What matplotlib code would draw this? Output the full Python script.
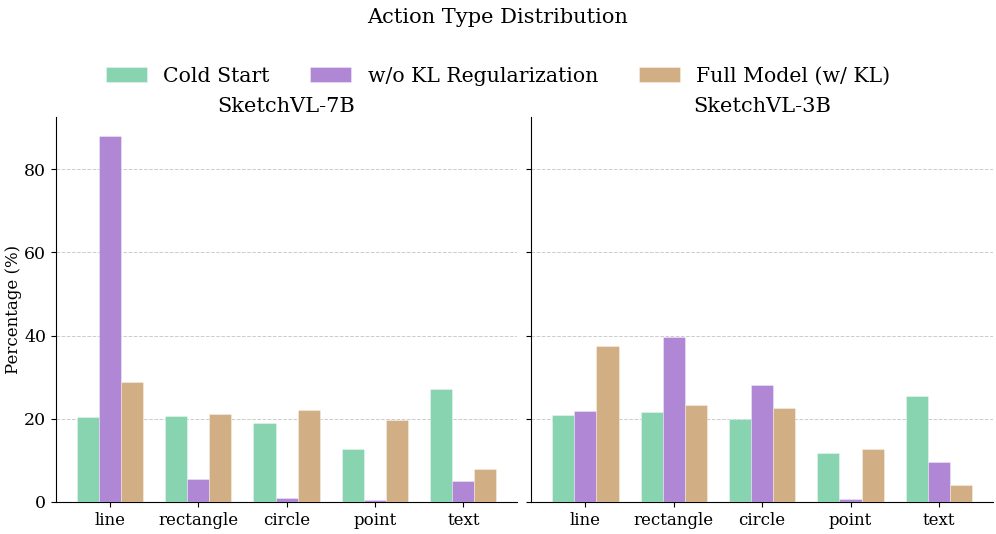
import numpy as np
import matplotlib.pyplot as plt

plt.rcParams['font.family'] = ['DejaVu Serif']

# dados
acoes = ["line", "rectangle", "circle", "point", "text"]
series = ["Cold Start", "w/o KL Regularization", "Full Model (w/ KL)"]
cores = ["#88d4b0", "#af87d4", "#d2ae85"]

vl7b_cold = [20.5, 20.7, 18.9, 12.7, 27.1]
vl7b_sem_kl = [88.0, 5.5, 1.0, 0.4, 5.0]
vl7b_full = [28.8, 21.1, 22.2, 19.7, 7.9]

vl3b_cold = [21.0, 21.5, 20.0, 11.8, 25.5]
vl3b_sem_kl = [21.8, 39.6, 28.0, 0.7, 9.6]
vl3b_full = [37.4, 23.2, 22.6, 12.7, 4.1]

modelos = {
    "SketchVL-7B": [vl7b_cold, vl7b_sem_kl, vl7b_full],
    "SketchVL-3B": [vl3b_cold, vl3b_sem_kl, vl3b_full],
}

fig, axes = plt.subplots(1, 2, figsize=(9.96, 5.34), dpi=100, sharey=True)

x = np.arange(len(acoes))
largura = 0.25

for ax, (nome, valores) in zip(axes, modelos.items()):
    for i, (serie, vals) in enumerate(zip(series, valores)):
        ax.bar(x + (i - 1) * largura, vals, largura, color=cores[i],
               edgecolor=(1, 1, 1, 0.6), linewidth=0.4, label=serie, zorder=3)
    ax.set_title(nome, fontsize=15, pad=4)
    ax.set_xticks(x)
    ax.set_xticklabels(acoes, fontsize=12)
    ax.tick_params(axis="y", labelsize=12.5)
    ax.grid(axis="y", linestyle="--", color="#cccccc", linewidth=0.7, zorder=0)
    ax.spines["top"].set_visible(False)
    ax.spines["right"].set_visible(False)

axes[0].set_ylabel("Percentage (%)", fontsize=12)
axes[0].yaxis.set_label_coords(-0.074, 0.5)

handles, labels = axes[0].get_legend_handles_labels()
fig.legend(handles, labels, loc="center", bbox_to_anchor=(0.5, 0.857),
           ncol=3, frameon=False, fontsize=14.7, handlelength=2.0,
           handleheight=0.75, columnspacing=2.0)

fig.suptitle("Action Type Distribution", fontsize=15, y=0.985)
fig.subplots_adjust(left=0.056, right=0.997, bottom=0.06, top=0.78, wspace=0.03)

plt.savefig("out.png", dpi=100)
